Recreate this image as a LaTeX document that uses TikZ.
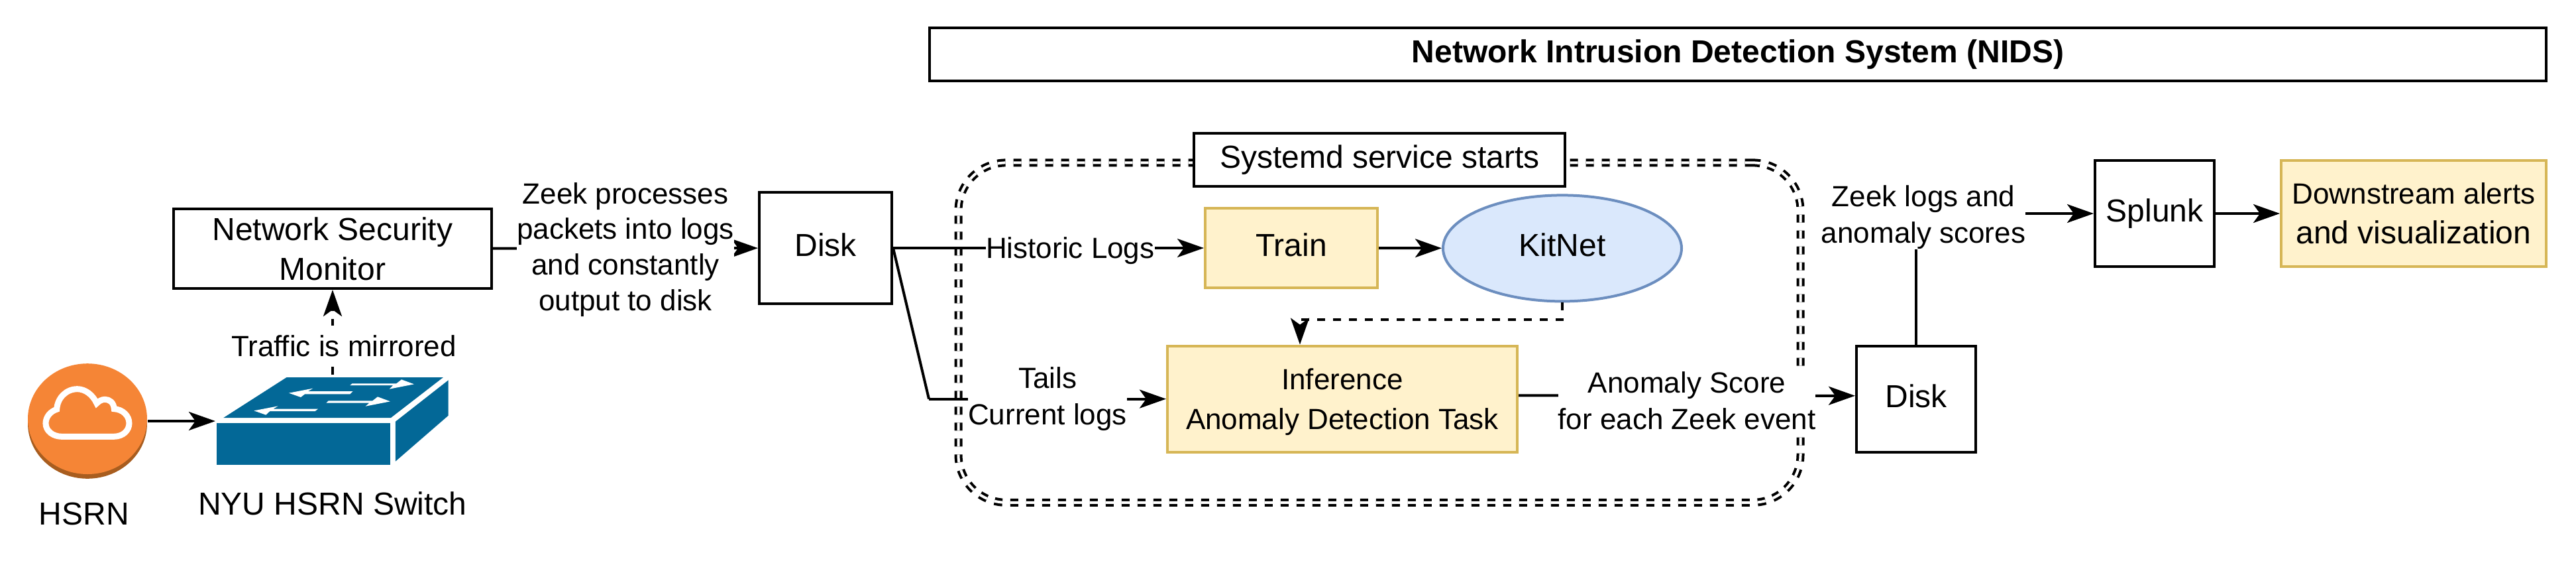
\documentclass[tikz,border=0pt]{standalone}
\usepackage{fontspec}
\setmainfont{Liberation Sans}
\usetikzlibrary{arrows.meta,shapes.geometric}
\definecolor{yellowfill}{HTML}{FFF2CC}
\definecolor{yellowline}{HTML}{D6B656}
\definecolor{bluefill}{HTML}{DAE8FC}
\definecolor{blueline}{HTML}{6C8EBF}
\definecolor{cloudface}{HTML}{F58536}
\definecolor{cloudside}{HTML}{A85D1F}
\definecolor{switchblue}{HTML}{036897}
\tikzset{
  every node/.style={font=\fontsize{12}{15}\selectfont,inner sep=0pt,align=center},
  oneline/.style={text height=9pt,text depth=3pt},
  box/.style={shape=rectangle,draw=black,line width=1pt},
  yellowbox/.style={box,draw=yellowline,fill=yellowfill},
  lbl/.style={fill=white,font=\fontsize{11}{13.8}\selectfont},
  flow/.style={line width=1pt,-{Stealth[length=10pt,width=7pt,inset=2.5pt]}},
  dashflow/.style={flow,dash pattern=on 3pt off 3pt},
}

\begin{document}
\begin{tikzpicture}[x=1pt,y=-1pt]
        \useasboundingbox (0,0) rectangle (972,212);
        % service outline goes first, everything else sits on it
        \node[shape=rectangle,rounded corners=18pt,draw=black,line width=1pt,double,double distance=1pt,dash pattern=on 3pt off 3pt,minimum width=317.75pt,minimum height=128.1pt] (service) at (520.5,125.4) {};

        \node[box,oneline,minimum width=610pt,minimum height=20pt,font=\fontsize{12}{15}\selectfont\bfseries] (nids) at (655.75,20.5) {Network Intrusion Detection System (NIDS)};
        \node[box,oneline,fill=white,minimum width=140pt,minimum height=20pt] (systemd) at (520.6,60.25) {Systemd service starts};
        \node[box,minimum width=120pt,minimum height=30pt] (nsm) at (125.5,93.75) {Network Security\\Monitor};
        \node[box,oneline,minimum width=50pt,minimum height=42pt] (disk1) at (311.5,93.5) {Disk};
        \node[yellowbox,oneline,minimum width=65pt,minimum height=30pt] (train) at (487.25,93.5) {Train};
        \node[shape=ellipse,oneline,draw=blueline,fill=bluefill,line width=1pt,minimum width=90pt,minimum height=40pt] (kitnet) at (589.5,93.6) {KitNet};
        \node[yellowbox,minimum width=132pt,minimum height=40pt,font=\fontsize{11}{15}\selectfont] (infer) at (506.5,150.4) {Inference\\\smash{Anomaly Detection Task}};
        \node[box,oneline,minimum width=45pt,minimum height=40pt] (disk2) at (723,150.5) {Disk};
        \node[box,oneline,minimum width=45pt,minimum height=40pt] (splunk) at (813,80.5) {Splunk};
        \node[yellowbox,minimum width=100pt,minimum height=40pt] (alerts) at (910.75,80.5) {{\fontsize{11}{15}\selectfont Downstream alerts}\\and visualization};

        % HSRN cloud icon
        \node[shape=ellipse,fill=cloudside,minimum width=45pt,minimum height=41.7pt] (hsrnside) at (33,159.6) {};
        \node[shape=ellipse,fill=cloudface,minimum width=45pt,minimum height=41.7pt] (hsrn) at (33,157.9) {};
        \begin{scope}[shift={(5,132.5)},scale=1/12]
            \draw[white,line width=2.25pt] (220,385) -- (455,385) .. controls (500,385) and (525,355) .. (525,325) .. controls (525,290) and (495,262) .. (457,260) .. controls (455,230) and (435,217) .. (415,217) .. controls (400,217) and (388,225) .. (378,235) .. controls (360,195) and (325,170) .. (290,170) .. controls (240,170) and (200,210) .. (197,262) .. controls (170,270) and (147,295) .. (147,325) .. controls (147,360) and (180,385) .. (220,385) -- cycle;
        \end{scope}
        \node (hsrnlabel) at (31.75,193.75) {HSRN};

        % switch icon
        \begin{scope}[shift={(77.5,135)},scale=1/12]
            \fill[switchblue] (51,293) rectangle (837,483);
            \fill[switchblue] (368,87) -- (1077,87) -- (840,270) -- (82,270) -- cycle;
            \fill[switchblue] (861,287) -- (1100,100) -- (1100,260) -- (861,467) -- cycle;
            \fill[white] (655,123) -- (665,115) -- (865,115) -- (888,97) -- (945,118) -- (833,140) -- (850,123) -- cycle;
            \fill[white] (547,203) -- (557,193) -- (757,193) -- (780,175) -- (837,196) -- (725,218) -- (742,203) -- cycle;
            \fill[white] (378,158) -- (487,137) -- (465,150) -- (668,150) -- (655,163) -- (450,163) -- (432,177) -- cycle;
            \fill[white] (220,238) -- (329,217) -- (307,230) -- (510,230) -- (497,240) -- (292,240) -- (274,257) -- cycle;
        \end{scope}
        \node (switchlabel) at (125.5,189.75) {NYU HSRN Switch};

        \coordinate (swin) at (81.25,158.75);
        \coordinate (swtop) at (125.5,141.25);
        \coordinate (bend) at (350.5,150.4);
        \coordinate (kink) at (490.5,120.5);

        \path [flow] (hsrn.east |- swin) edge (swin);
        \path [dashflow] (swtop) edge node[lbl,pos=.34,xshift=4.25pt,minimum height=15pt]{Traffic is mirrored}(nsm.south);
        \path [flow] (nsm) edge node[lbl,yshift=-.5pt,font=\fontsize{11}{13.4}\selectfont]{Zeek processes\\packets into logs\\and constantly\\output to disk}(disk1);
        \path [flow] (disk1) edge node[lbl,pos=.57,text depth=0pt]{Historic Logs}(train);
        \path [flow] (train) edge (kitnet);
        \draw [line width=1pt] (disk1.east) -- (bend);
        \path [flow] (bend) edge node[lbl]{Tails\\Current logs}(infer);
        \draw [dashflow] (kitnet.south) -- (kitnet.south |- kink) -- (kink) -- (kink |- infer.north);
        \path [flow] ([yshift=1.3pt]infer.east) edge node[lbl,yshift=-2pt]{Anomaly Score\\for each Zeek event}([yshift=1.3pt]disk2.west);
        \draw [flow] (disk2.north) |- node[lbl,pos=.5,xshift=2.75pt,yshift=-1.5pt]{Zeek logs and\\anomaly scores}(splunk.west);
        \path [flow] (splunk) edge (alerts);
    \end{tikzpicture}
\end{document}
